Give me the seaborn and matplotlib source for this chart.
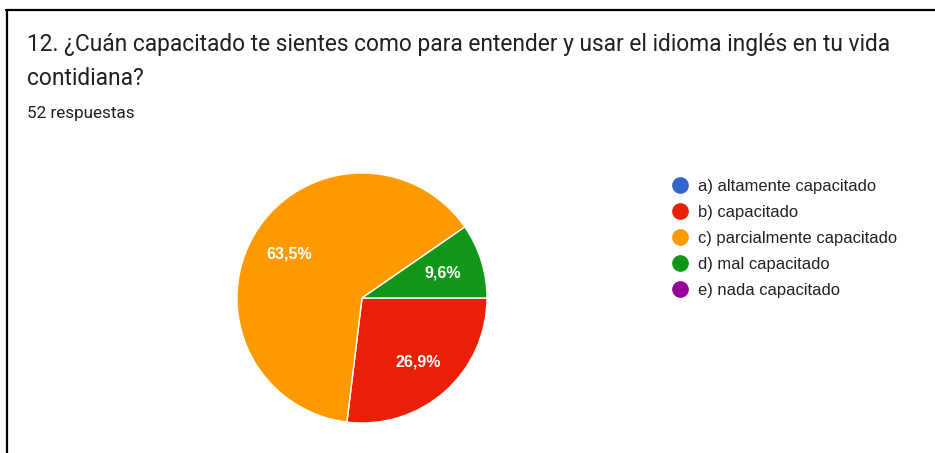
import matplotlib
matplotlib.use("Agg")
import seaborn as sns
from matplotlib import pyplot as plt
from matplotlib.lines import Line2D

# survey answers (52 responses)
categories = [
    "a) altamente capacitado",
    "b) capacitado",
    "c) parcialmente capacitado",
    "d) mal capacitado",
    "e) nada capacitado",
]
counts = [0, 14, 33, 5, 0]
colors = ["#3366cc", "#ea1f08", "#ff9900", "#109618", "#990099"]

title = "12. ¿Cuán capacitado te sientes como para entender y usar el idioma inglés en tu vida\ncontidiana?"
subtitle = "52 respuestas"

sns.set_theme(style="white")
plt.rcParams["font.family"] = ["Roboto", "DejaVu Sans"]

W, H = 935, 453
f = plt.figure(figsize=(W / 100, H / 100), dpi=100)
f.patch.set_facecolor("white")

# pie axes: centre (362, 298), radius 125 px
cx, cy, r = 362, 298, 125
ax = f.add_axes([(cx - r) / W, (H - cy - r) / H, 2 * r / W, 2 * r / H])

nz = [(c, col) for c, col in zip(counts, colors) if c > 0]
vals = [c for c, _ in nz]
cols = [col for _, col in nz]


def fmt(p):
    return f"{p:.1f}".replace(".", ",") + "%"


wedges, texts, autotexts = ax.pie(
    vals,
    colors=cols,
    startangle=0,
    counterclock=False,
    autopct=fmt,
    pctdistance=0.68,
    radius=1,
    wedgeprops=dict(edgecolor="white", linewidth=1),
    textprops=dict(color="white", fontsize=11.5, fontweight="bold",
                   family=["Liberation Sans", "DejaVu Sans"]),
)
ax.set_xlim(-1, 1)
ax.set_ylim(-1, 1)
ax.set_aspect("equal")
ax.axis("off")

# legend
handles = [
    Line2D([0], [0], marker="o", linestyle="", markersize=11,
           markerfacecolor=c, markeredgecolor=c)
    for c in colors
]
leg = f.legend(
    handles, categories,
    loc="upper left",
    bbox_to_anchor=(649 / W, 1 - 164 / H),
    frameon=False,
    handletextpad=0.05,
    labelspacing=0.66,
    prop=dict(family=["Liberation Sans", "DejaVu Sans"], size=11.9),
)
for t in leg.get_texts():
    t.set_color("#222222")

# header text
f.text(27 / W, 1 - 33 / H, title, fontsize=16.4, color="#202124",
       va="top", ha="left", linespacing=1.62)
f.text(27 / W, 1 - 106 / H, subtitle, fontsize=12.3, color="#202124",
       va="top", ha="left")

# screenshot frame
f.add_artist(Line2D([6 / W, 1], [1 - 10 / H, 1 - 10 / H], color="black",
                    linewidth=1.6, transform=f.transFigure))
f.add_artist(Line2D([7 / W, 7 / W], [0, 1 - 10 / H], color="black",
                    linewidth=1.6, transform=f.transFigure))

f.savefig("out.png", dpi=100, facecolor="white")
